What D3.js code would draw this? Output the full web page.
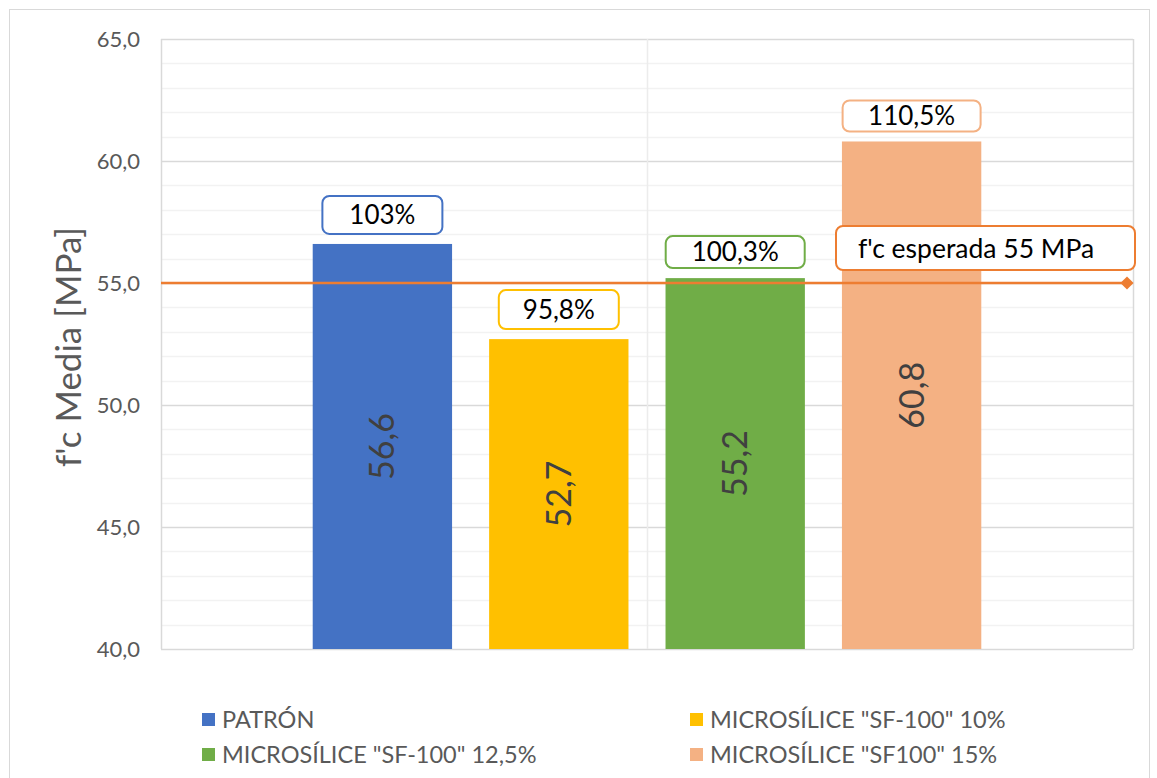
<!DOCTYPE html>
<html>
<head>
<meta charset="utf-8">
<script src="https://cdn.jsdelivr.net/npm/d3@7"></script>
<style>
  body { margin: 0; background: #fff; }
  svg { display: block; font-family: Lato, "Open Sans", sans-serif; }
</style>
</head>
<body>
<script>
// data
const series = ['PATRÓN', 'MICROSÍLICE "SF-100" 10%', 'MICROSÍLICE "SF-100" 12,5%', 'MICROSÍLICE "SF100" 15%'];
const values = [56.6, 52.7, 55.2, 60.8];
const percents = ['103%', '95,8%', '100,3%', '110,5%'];
const colors = ['#4472C4', '#FFC000', '#70AD47', '#F4B183'];
const yTicks = [40, 45, 50, 55, 60, 65];
const target = 55;
const targetLabel = "f'c esperada 55 MPa";
const yTitle = "f'c Media [MPa]";

// box sizes of the percent labels (they differ a bit in the original)
const boxW = [120, 120, 139, 138];
const boxH = [38, 39, 32, 31];

const W = 1157, H = 778;
const m = {left: 161, top: 39, right: 1133, bottom: 649};

const svg = d3.select('body').append('svg').attr('width', W).attr('height', H);

// chart outer border
svg.append('rect').attr('x', 9.5).attr('y', 9.5).attr('width', 1140).attr('height', 800)
  .attr('fill', 'none').attr('stroke', '#d9d9d9');

const y = d3.scaleLinear().domain([40, 65]).range([m.bottom, m.top]);
const x = d3.scaleBand().domain(series).range([m.left, m.right]).paddingInner(0.21).paddingOuter(0.86);

// minor gridlines every 1
const minor = d3.range(41, 65, 1).filter(v => v % 5 !== 0);
svg.append('g').selectAll('line').data(minor).enter().append('line')
  .attr('x1', m.left).attr('x2', m.right)
  .attr('y1', d => Math.round(y(d)) + 0.5).attr('y2', d => Math.round(y(d)) + 0.5)
  .attr('stroke', '#f2f2f2').attr('stroke-width', 1.5);

// major gridlines
svg.append('g').selectAll('line').data(yTicks).enter().append('line')
  .attr('x1', m.left).attr('x2', m.right)
  .attr('y1', d => Math.round(y(d)) + 0.5).attr('y2', d => Math.round(y(d)) + 0.5)
  .attr('stroke', '#d9d9d9').attr('stroke-width', 1.5);

// vertical lines (plot edges + middle)
[m.left, (m.left + m.right) / 2, m.right].forEach((vx, i) => {
  svg.append('line').attr('x1', Math.round(vx) + 0.5).attr('x2', Math.round(vx) + 0.5)
    .attr('y1', m.top).attr('y2', m.bottom)
    .attr('stroke', i === 1 ? '#ececec' : '#d9d9d9').attr('stroke-width', 1.5);
});

// y axis labels
const yAxis = d3.axisLeft(y).tickValues(yTicks).tickSize(0).tickPadding(21)
  .tickFormat(d => d3.format('.1f')(d).replace('.', ','));
const gy = svg.append('g').attr('transform', `translate(${m.left},0)`).call(yAxis);
gy.select('.domain').remove();
gy.selectAll('text').attr('fill', '#595959').style('font-size', '22px')
  .style('font-family', 'Lato, sans-serif');

// y title
svg.append('text').attr('transform', `translate(81,${(m.top + m.bottom) / 2 + 3}) rotate(-90)`)
  .attr('text-anchor', 'middle').attr('fill', '#595959').style('font-size', '35px')
  .text(yTitle);

// bars
svg.append('g').selectAll('rect').data(values).enter().append('rect')
  .attr('x', (d, i) => x(series[i])).attr('width', x.bandwidth())
  .attr('y', d => y(d)).attr('height', d => y(40) - y(d))
  .attr('fill', (d, i) => colors[i]);

// value labels inside bars (rotated)
svg.append('g').selectAll('text').data(values).enter().append('text')
  .attr('transform', (d, i) => `translate(${x(series[i]) + x.bandwidth() / 2 + 12},${(y(d) + y(40)) / 2}) rotate(-90)`)
  .attr('text-anchor', 'middle').attr('fill', '#404040').style('font-size', '34px')
  .text(d => d3.format('.1f')(d).replace('.', ','));

// target line
const lineEnd = m.right - 6;
svg.append('line').attr('x1', m.left).attr('x2', lineEnd)
  .attr('y1', y(target)).attr('y2', y(target))
  .attr('stroke', '#ED7D31').attr('stroke-width', 2.5);
svg.append('path').attr('d', d3.symbol(d3.symbolDiamond2, 110)())
  .attr('transform', `translate(${lineEnd},${y(target)})`)
  .attr('fill', '#ED7D31');
svg.append('rect').attr('x', 836).attr('y', 226).attr('width', 299).attr('height', 44)
  .attr('rx', 7).attr('fill', '#fff').attr('stroke', '#ED7D31').attr('stroke-width', 2);
svg.append('text').attr('x', 858).attr('y', 258).attr('fill', '#000').style('font-size', '26.5px')
  .text(targetLabel);

// percent labels in rounded boxes
const pl = svg.append('g').selectAll('g').data(values).enter().append('g')
  .attr('transform', (d, i) => `translate(${x(series[i]) + x.bandwidth() / 2},${y(d) - 10})`);
pl.append('rect')
  .attr('x', (d, i) => -boxW[i] / 2).attr('y', (d, i) => -boxH[i])
  .attr('width', (d, i) => boxW[i]).attr('height', (d, i) => boxH[i])
  .attr('rx', 7).attr('fill', '#fff')
  .attr('stroke', (d, i) => colors[i]).attr('stroke-width', 2);
pl.append('text').attr('text-anchor', 'middle')
  .attr('y', (d, i) => -boxH[i] / 2 + 9)
  .attr('fill', '#000').style('font-size', '26px')
  .text((d, i) => percents[i]);

// legend 2x2
const legPos = [[202, 713], [690, 713], [202, 748], [690, 748]];
const lg = svg.append('g').selectAll('g').data(series).enter().append('g')
  .attr('transform', (d, i) => `translate(${legPos[i][0]},${legPos[i][1]})`);
lg.append('rect').attr('width', 13).attr('height', 13).attr('fill', (d, i) => colors[i]);
lg.append('text').attr('x', 20).attr('y', 15).attr('fill', '#595959').style('font-size', '23.5px')
  .text(d => d);
</script>
</body>
</html>
